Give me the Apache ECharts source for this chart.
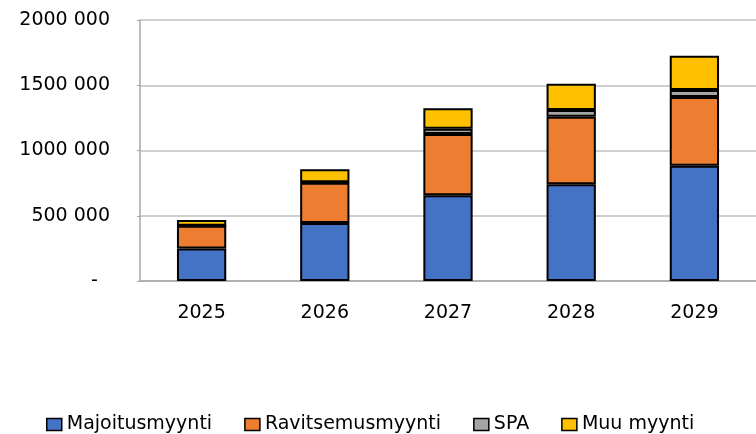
<!DOCTYPE html>
<html>
<head>
<meta charset="utf-8">
<script src="https://cdn.jsdelivr.net/npm/echarts@6/dist/echarts.min.js"></script>
<style>
  html, body { margin: 0; padding: 0; background: #fff; }
  #main { width: 756px; height: 434px; }
</style>
</head>
<body>
<div id="main"></div>
<script>
var years = ["2025", "2026", "2027", "2028", "2029"];
var majoitus = [250000, 444000, 657000, 741000, 884000];
var ravitsemus = [174000, 309000, 469000, 518000, 526000];
var spa = [0, 4000, 40000, 51000, 54000];
var muu = [43000, 100000, 157000, 202000, 263000];

var chart = echarts.init(document.getElementById("main"));
var font = "DejaVu Sans";

// excel style "2000 000", zero shown as a dash
function fmt(v) {
    if (v === 0) return "-  ";
    return Math.floor(v / 1000) + " 000";
}

function bar(name, data, color) {
    return {
        name: name,
        type: "bar",
        stack: "total",
        data: data,
        barCategoryGap: "60%",
        itemStyle: { color: color, borderColor: "#000", borderWidth: 2 }
    };
}

chart.setOption({
    animation: false,
    grid: { left: 140, right: 0, top: 20, bottom: 153 },
    legend: {
        top: 410,
        left: 41,
        itemWidth: 15,
        itemHeight: 12,
        itemGap: 32,
        icon: "rect",
        textStyle: { fontFamily: font, fontSize: 19, color: "#000" },
        itemStyle: { borderColor: "#000", borderWidth: 1.5 },
        data: ["Majoitusmyynti", "Ravitsemusmyynti", "SPA", "Muu myynti"]
    },
    xAxis: {
        type: "category",
        data: years,
        axisLine: { lineStyle: { color: "#a6a6a6", width: 1.5 } },
        axisTick: { show: false },
        axisLabel: { margin: 23, fontFamily: font, fontSize: 19, color: "#000" }
    },
    yAxis: {
        type: "value",
        min: 0,
        max: 2000000,
        interval: 500000,
        axisLine: { show: true, lineStyle: { color: "#a6a6a6", width: 1.5 } },
        axisTick: { show: true, length: 3, lineStyle: { color: "#a6a6a6" } },
        splitLine: { lineStyle: { color: "#bfbfbf", width: 1.5 } },
        axisLabel: { margin: 30, fontFamily: font, fontSize: 19, color: "#000", formatter: fmt }
    },
    series: [
        bar("Majoitusmyynti", majoitus, "#4472C4"),
        bar("Ravitsemusmyynti", ravitsemus, "#ED7D31"),
        bar("SPA", spa, "#A5A5A5"),
        bar("Muu myynti", muu, "#FFC000")
    ]
});
</script>
</body>
</html>
